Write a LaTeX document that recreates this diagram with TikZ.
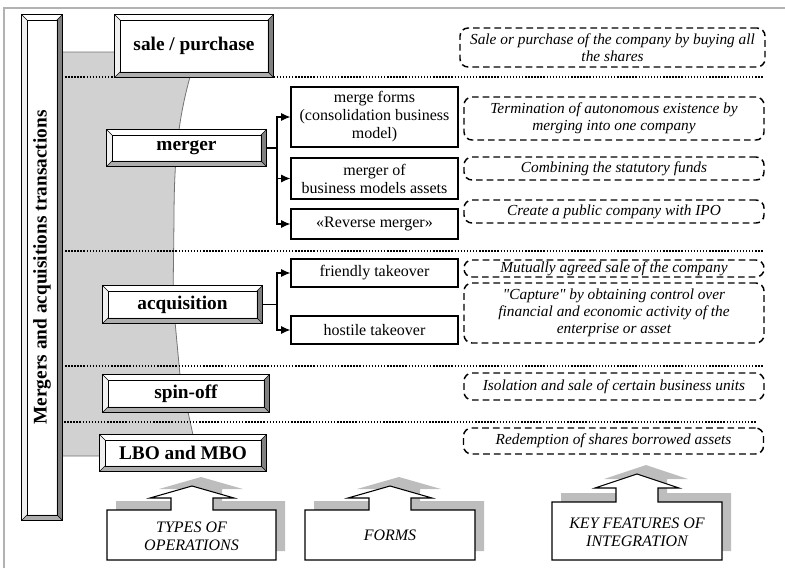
\documentclass[tikz,border=0pt]{standalone}
\usepackage{fontspec}
\setmainfont{Liberation Serif}
\usepackage{graphicx}
\usetikzlibrary{arrows.meta}
\font\qfi="Liberation Serif/I" at 11.5pt
\newcommand\sq{{\qfi\char34}}
\def\bw{4pt}
\newcommand\bevelit[1]{%
 \fill[black!50] (#1.north east) -- (#1.south east) -- ([shift={(-\bw,\bw)}]#1.south east) -- ([shift={(-\bw,-\bw)}]#1.north east) -- cycle;
 \fill[black!32] (#1.south west) -- (#1.south east) -- ([shift={(-\bw,\bw)}]#1.south east) -- ([shift={(\bw,\bw)}]#1.south west) -- cycle;
 \fill[black!6] (#1.north west) -- (#1.south west) -- ([shift={(\bw,\bw)}]#1.south west) -- ([shift={(\bw,-\bw)}]#1.north west) -- cycle;
 \draw[line width=0.6pt] ([shift={(\bw,\bw)}]#1.south west) rectangle ([shift={(-\bw,-\bw)}]#1.north east);
 \draw[line width=0.5pt] (#1.south west) -- ++(\bw,\bw) (#1.south east) -- ++(-\bw,\bw) (#1.north west) -- ++(\bw,-\bw) (#1.north east) -- ++(-\bw,-\bw);
 \draw[line width=0.9pt] (#1.south west) rectangle (#1.north east);
}
\newcommand\abpath[7]{(#1,#4) -- (#1,#3) -- (#5-21,#3) -- (#5-21,#6) -- (#5-42,#6) -- (#5,#7) -- (#5+42,#6) -- (#5+21,#6) -- (#5+21,#3) -- (#2,#3) -- (#2,#4) -- cycle}
\newcommand\arrowbox[7]{%
 \fill[black!26, shift={(9,-9)}] \abpath{#1}{#2}{#3}{#4}{#5}{#6}{#7};
 \filldraw[fill=white, draw=black, line width=0.8pt] \abpath{#1}{#2}{#3}{#4}{#5}{#6}{#7};
}
\begin{document}
\begin{tikzpicture}[x=0.75pt,y=-0.75pt,
  bev/.style={fill=white, inner sep=0pt, font=\fontsize{14.5}{16}\selectfont\bfseries},
  formbox/.style={draw, line width=0.8pt, fill=white, inner sep=1pt, minimum width=125.25pt, align=center, font=\fontsize{12}{13.5}\selectfont},
  featbox/.style={draw, dash pattern=on 5pt off 3pt, line width=1.1pt, rounded corners=6pt, inner sep=1pt, minimum width=225pt, align=center, font=\fontsize{11.5}{12.75}\selectfont\itshape},
  sepline/.style={line width=1.4pt, dash pattern=on 1.1pt off 1.2pt},
  conn/.style={line width=0.8pt},
  tip/.style={-{Latex[length=7pt,width=6pt]}},
  botlabel/.style={align=center, font=\fontsize{12}{13.5}\selectfont\itshape}
]
\useasboundingbox (0,0) rectangle (785,568);
% outer frame
\draw[black!30, line width=1.5pt] (4,568) -- (4,8) -- (785,8);
% grey region
\filldraw[fill=black!18, draw=black!55, line width=0.6pt] (62,52) -- (190,52) -- (190,77) .. controls (178,120) and (174,160) .. (174,220) -- (173,300) -- (180,375) -- (193,435) -- (193,456) -- (62,456) -- cycle;
% separators
\draw[sepline] (62,77) -- (763,77);
\draw[sepline] (62,251) -- (763,251);
\draw[sepline] (62,366) -- (763,366);
\draw[sepline] (58,422) -- (756,422);
% vertical bar
\node[bev, minimum width=30pt, minimum height=378.75pt] (title) at (42,267.5) {\rotatebox{90}{Mergers and acquisitions transactions}};
\bevelit{title}
% types
\node[bev, minimum width=118.5pt, minimum height=46.5pt] (sale) at (194,46) {sale / purchase};
\bevelit{sale}
\node[bev, minimum width=119.25pt, minimum height=27pt] (merger) at (186.5,148) {merger};
\bevelit{merger}
\node[bev, minimum width=119.25pt, minimum height=27.75pt] (acq) at (182.5,304.5) {acquisition};
\bevelit{acq}
\node[bev, minimum width=124.5pt, minimum height=27.75pt] (spin) at (186,393.5) {spin-off};
\bevelit{spin}
\node[bev, minimum width=124.5pt, minimum height=27pt] (lbo) at (183,453) {LBO and MBO};
\bevelit{lbo}
% forms
\node[formbox, minimum height=45pt] (mf) at (374.5,117) {merge forms\\(consolidation business\\model)};
\node[formbox, minimum height=30.75pt] (ma) at (374.5,178.5) {merger of\\business models assets};
\node[formbox, minimum height=22.5pt] (rm) at (374.5,224) {«Reverse merger»};
\node[formbox, minimum height=21pt] (ft) at (374.5,273) {friendly takeover};
\node[formbox, minimum height=21pt] (ht) at (374.5,330) {hostile takeover};
% connectors
\coordinate (mj) at (277,148);
\draw[conn] (merger.east) -- (mj);
\draw[conn,tip] (mj) |- (mf.west);
\draw[conn,tip] (mj) |- (ma.west);
\draw[conn,tip] (mj) |- (rm.west);
\coordinate (aj) at (277,304.5);
\draw[conn] (acq.east) -- (aj);
\draw[conn,tip] (aj) |- (ft.west);
\draw[conn,tip] (aj) |- (ht.west);
% features
\node[featbox, minimum width=228.75pt, minimum height=29.25pt] (d1) at (612.5,47.5) {Sale or purchase of the company by buying all\\the shares};
\node[featbox, minimum height=32.25pt] (d2) at (614,118.5) {Termination of autonomous existence by\\merging into one company};
\node[featbox, minimum height=17.25pt] (d3) at (614,168.5) {Combining the statutory funds};
\node[featbox, minimum height=17.25pt] (d4) at (614,211.5) {Create a public company with IPO};
\node[featbox, minimum height=12.75pt] (d5) at (614,268.5) {Mutually agreed sale of the company};
\node[featbox, minimum height=45pt] (d6) at (614,313) {\sq Capture\sq{} by obtaining control over\\financial and economic activity of the\\enterprise or asset};
\node[featbox, minimum height=20.25pt] (d7) at (614,386.5) {Isolation and sale of certain business units};
\node[featbox, minimum height=19.5pt] (d8) at (613.5,441) {Redemption of shares borrowed assets};
% bottom legend
\arrowbox{107}{276}{510}{560}{192}{498}{486}
\arrowbox{305}{475}{510}{560}{390}{498}{486}
\arrowbox{552}{722}{502}{560}{637}{488}{474}
\node[botlabel] (l1) at (191.5,536) {TYPES OF\\OPERATIONS};
\node[botlabel] (l2) at (390,535) {FORMS};
\node[botlabel] (l3) at (637,532) {KEY FEATURES OF\\INTEGRATION};
\end{tikzpicture}
\end{document}
